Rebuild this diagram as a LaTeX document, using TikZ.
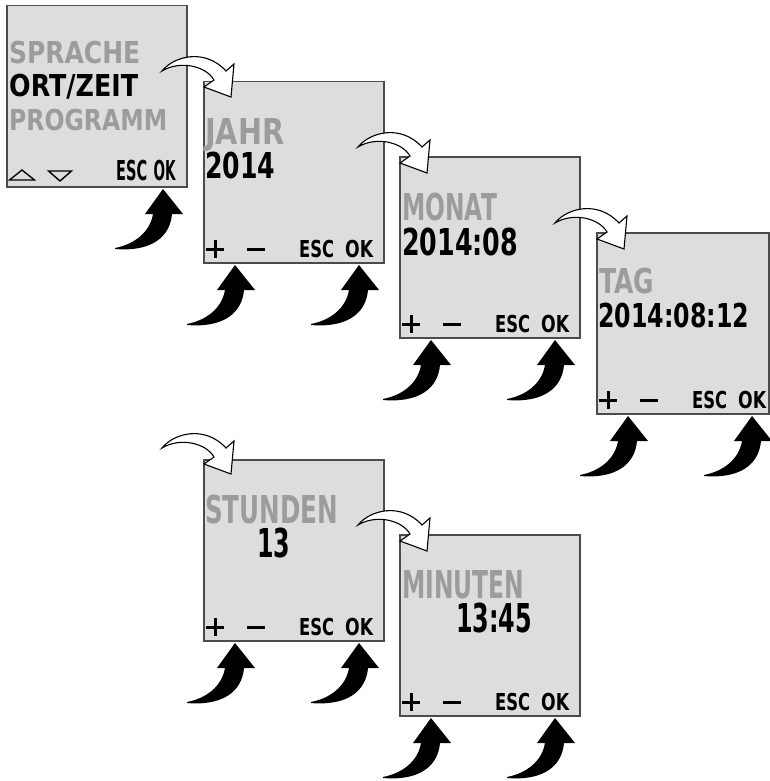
\documentclass[tikz,border=0pt]{standalone}
\usepackage{fontspec}
\usepackage{graphicx}
\newfontfamily\lcdfont{DejaVu Sans}
\definecolor{lcdbg}{RGB}{221,221,221}
\definecolor{lcdgray}{RGB}{156,156,156}
\definecolor{lcdframe}{RGB}{75,75,75}
\newcommand\lcdtxt[3]{\resizebox{#1pt}{\height}{\fontsize{\fpeval{#2/0.729}pt}{\fpeval{#2/0.729}pt}\lcdfont\bfseries #3}}
\newcommand\btnrow[3]{%
  \begin{scope}[shift={(#2,#3)}]
    \draw[signline] (3,-13) -- (21,-13) (12,-22) -- (12,-4);
    \draw[signline] (44,-13) -- (62,-13);
    \node[lbl] (#1esc) at (96,-5) {\lcdtxt{35}{17}{ESC}};
    \node[lbl] (#1ok) at (142,-5) {\lcdtxt{28}{17}{OK}};
  \end{scope}}
\newcommand\blkarrow[1]{%
  \fill[black, shift={#1}] (-48,59) .. controls (-28,55) and (-13,43) .. (-10,25)
    -- (-18,25) -- (0,0) -- (20,25) -- (9,25)
    .. controls (7,49) and (-13,63) .. (-48,60) -- cycle;}
\newcommand\whtarrow[1]{%
  \draw[warrow, shift={#1}] (0,0) .. controls (12,-15) and (43,-23) .. (64,0)
    -- (72,-7) -- (69,26) -- (42,16) -- (52,9)
    .. controls (44,-5) and (18,-11) .. (0,0) -- cycle;}
\begin{document}
\begin{tikzpicture}[x=1pt,y=-1pt,
  screen/.style={draw=lcdframe, line width=1.5pt, fill=lcdbg, anchor=north west,
    minimum width=180pt, minimum height=181pt, inner sep=0pt},
  lbl/.style={anchor=base west, inner sep=0pt, text=black},
  glbl/.style={anchor=base west, inner sep=0pt, text=lcdgray},
  signline/.style={line width=3pt, black},
  warrow/.style={draw=black, line width=1.1pt, fill=white, line join=miter},
  tri/.style={draw=black, line width=1.4pt, line join=miter}]
\useasboundingbox (0,0) rectangle (769,781);
% screens
\node[screen] (s1) at (6,5) {};
\node[screen] (s2) at (203,81) {};
\node[screen] (s3) at (399,156) {};
\node[screen, minimum width=172pt] (s4) at (596,232) {};
\node[screen] (s5) at (203,459) {};
\node[screen] (s6) at (399,534) {};
% screen 1
\node[glbl] (t1a) at (9,64) {\lcdtxt{131}{22}{SPRACHE}};
\node[lbl] (t1b) at (9,97) {\lcdtxt{129}{22}{ORT/ZEIT}};
\node[glbl] (t1c) at (9,131) {\lcdtxt{158}{21}{PROGRAMM}};
\draw[tri] (9.5,180) -- (34.5,180) -- (22,170) -- cycle;
\draw[tri] (48.5,171) -- (71.5,171) -- (60,181) -- cycle;
\node[lbl] (t1esc) at (116,180) {\lcdtxt{31}{20}{ESC}};
\node[lbl] (t1ok) at (153.5,180) {\lcdtxt{22}{20}{OK}};
% screen 2
\node[glbl] (t2a) at (205,144) {\lcdtxt{79}{26}{JAHR}};
\node[lbl] (t2b) at (205,178) {\lcdtxt{70}{26}{2014}};
\btnrow{t2}{203}{262}
% screen 3
\node[glbl] (t3a) at (402,220) {\lcdtxt{95}{27}{MONAT}};
\node[lbl] (t3b) at (402,255) {\lcdtxt{116}{27}{2014:08}};
\btnrow{t3}{399}{337}
% screen 4
\node[glbl] (t4a) at (599,293) {\lcdtxt{55}{25}{TAG}};
\node[lbl] (t4b) at (598,327) {\lcdtxt{151}{24}{2014:08:12}};
\btnrow{t4}{596}{413}
% screen 5
\node[glbl] (t5a) at (205,523) {\lcdtxt{133}{28}{STUNDEN}};
\node[lbl] (t5b) at (257,557) {\lcdtxt{33}{29}{13}};
\btnrow{t5}{203}{640}
% screen 6
\node[glbl] (t6a) at (402,598) {\lcdtxt{122}{28}{MINUTEN}};
\node[lbl] (t6b) at (456,632) {\lcdtxt{76}{29}{13:45}};
\btnrow{t6}{399}{715}
% white transition arrows
\whtarrow{(162,71)}
\whtarrow{(358,147)}
\whtarrow{(555,223)}
\whtarrow{(162,448)}
\whtarrow{(358,525)}
% black button arrows
\blkarrow{(163,189)}
\blkarrow{(235,265)}
\blkarrow{(359,265)}
\blkarrow{(431,340)}
\blkarrow{(555,340)}
\blkarrow{(628,416)}
\blkarrow{(752,416)}
\blkarrow{(235,643)}
\blkarrow{(359,643)}
\blkarrow{(431,718)}
\blkarrow{(555,718)}
\end{tikzpicture}
\end{document}
